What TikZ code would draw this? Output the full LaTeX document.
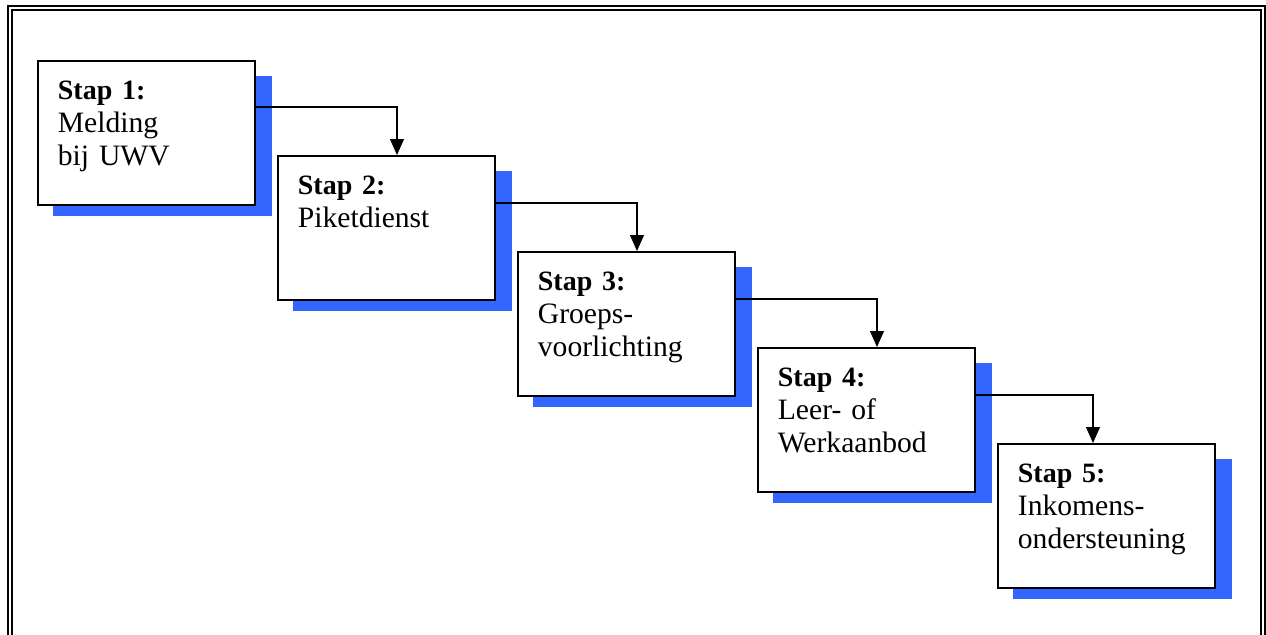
\documentclass[tikz,border=0pt]{standalone}
\usepackage{fontspec}
\setmainfont{Liberation Serif}
\usepackage{xcolor}
\usepackage{tikz}
\usetikzlibrary{positioning,arrows.meta,backgrounds}
\definecolor{shadowblue}{HTML}{3366FF}
\newcommand{\stap}[1]{{\fontsize{14pt}{16.5pt}\selectfont\bfseries Stap #1:}}

\begin{document}
\begin{tikzpicture}[
    x=0.5pt, y=-0.5pt,
    stepbox/.style={draw, line width=0.9pt, fill=white, anchor=north west, align=left,
      text width=88.5pt, inner xsep=10pt, inner ysep=0pt,
      text height=19.5pt, text depth=52.5pt, minimum width=108.5pt,
      font=\fontsize{14.8pt}{16.5pt}\selectfont},
    blueshadow/.style={fill=shadowblue},
    arrow/.style={-{Triangle[length=8pt,width=7pt]}, line width=0.55pt}
]
\useasboundingbox (0,0) rectangle (1266,634);
\clip (0,0) rectangle (1266,634);

% outer frame
\draw[line width=0.7pt, double, double distance=1.2pt] (10,8) rectangle (1263,660);

\node[stepbox] (melding) at (37,60) {\stap{1}\\Melding\\bij UWV};
\node[stepbox] (piket) at (277,155) {\stap{2}\\Piketdienst};
\node[stepbox] (groeps) at (517,251) {\stap{3}\\Groeps-\\voorlichting};
\node[stepbox] (aanbod) at (757,347) {\stap{4}\\Leer- of\\Werkaanbod};
\node[stepbox] (inkomen) at (997,443) {\stap{5}\\Inkomens-\\ondersteuning};

\begin{scope}[on background layer]
\foreach \s in {melding,piket,groeps,aanbod,inkomen}
  \fill[blueshadow] ([shift={(8pt,-8pt)}]\s.north west) rectangle ([shift={(8pt,-5pt)}]\s.south east);
\end{scope}

\draw[arrow] ([yshift=-23.5pt]melding.north east) -| ([xshift=60pt]piket.north west);
\draw[arrow] ([yshift=-24pt]piket.north east) -| ([xshift=60pt]groeps.north west);
\draw[arrow] ([yshift=-24pt]groeps.north east) -| ([xshift=60pt]aanbod.north west);
\draw[arrow] ([yshift=-24pt]aanbod.north east) -| ([xshift=48pt]inkomen.north west);

\end{tikzpicture}
\end{document}
